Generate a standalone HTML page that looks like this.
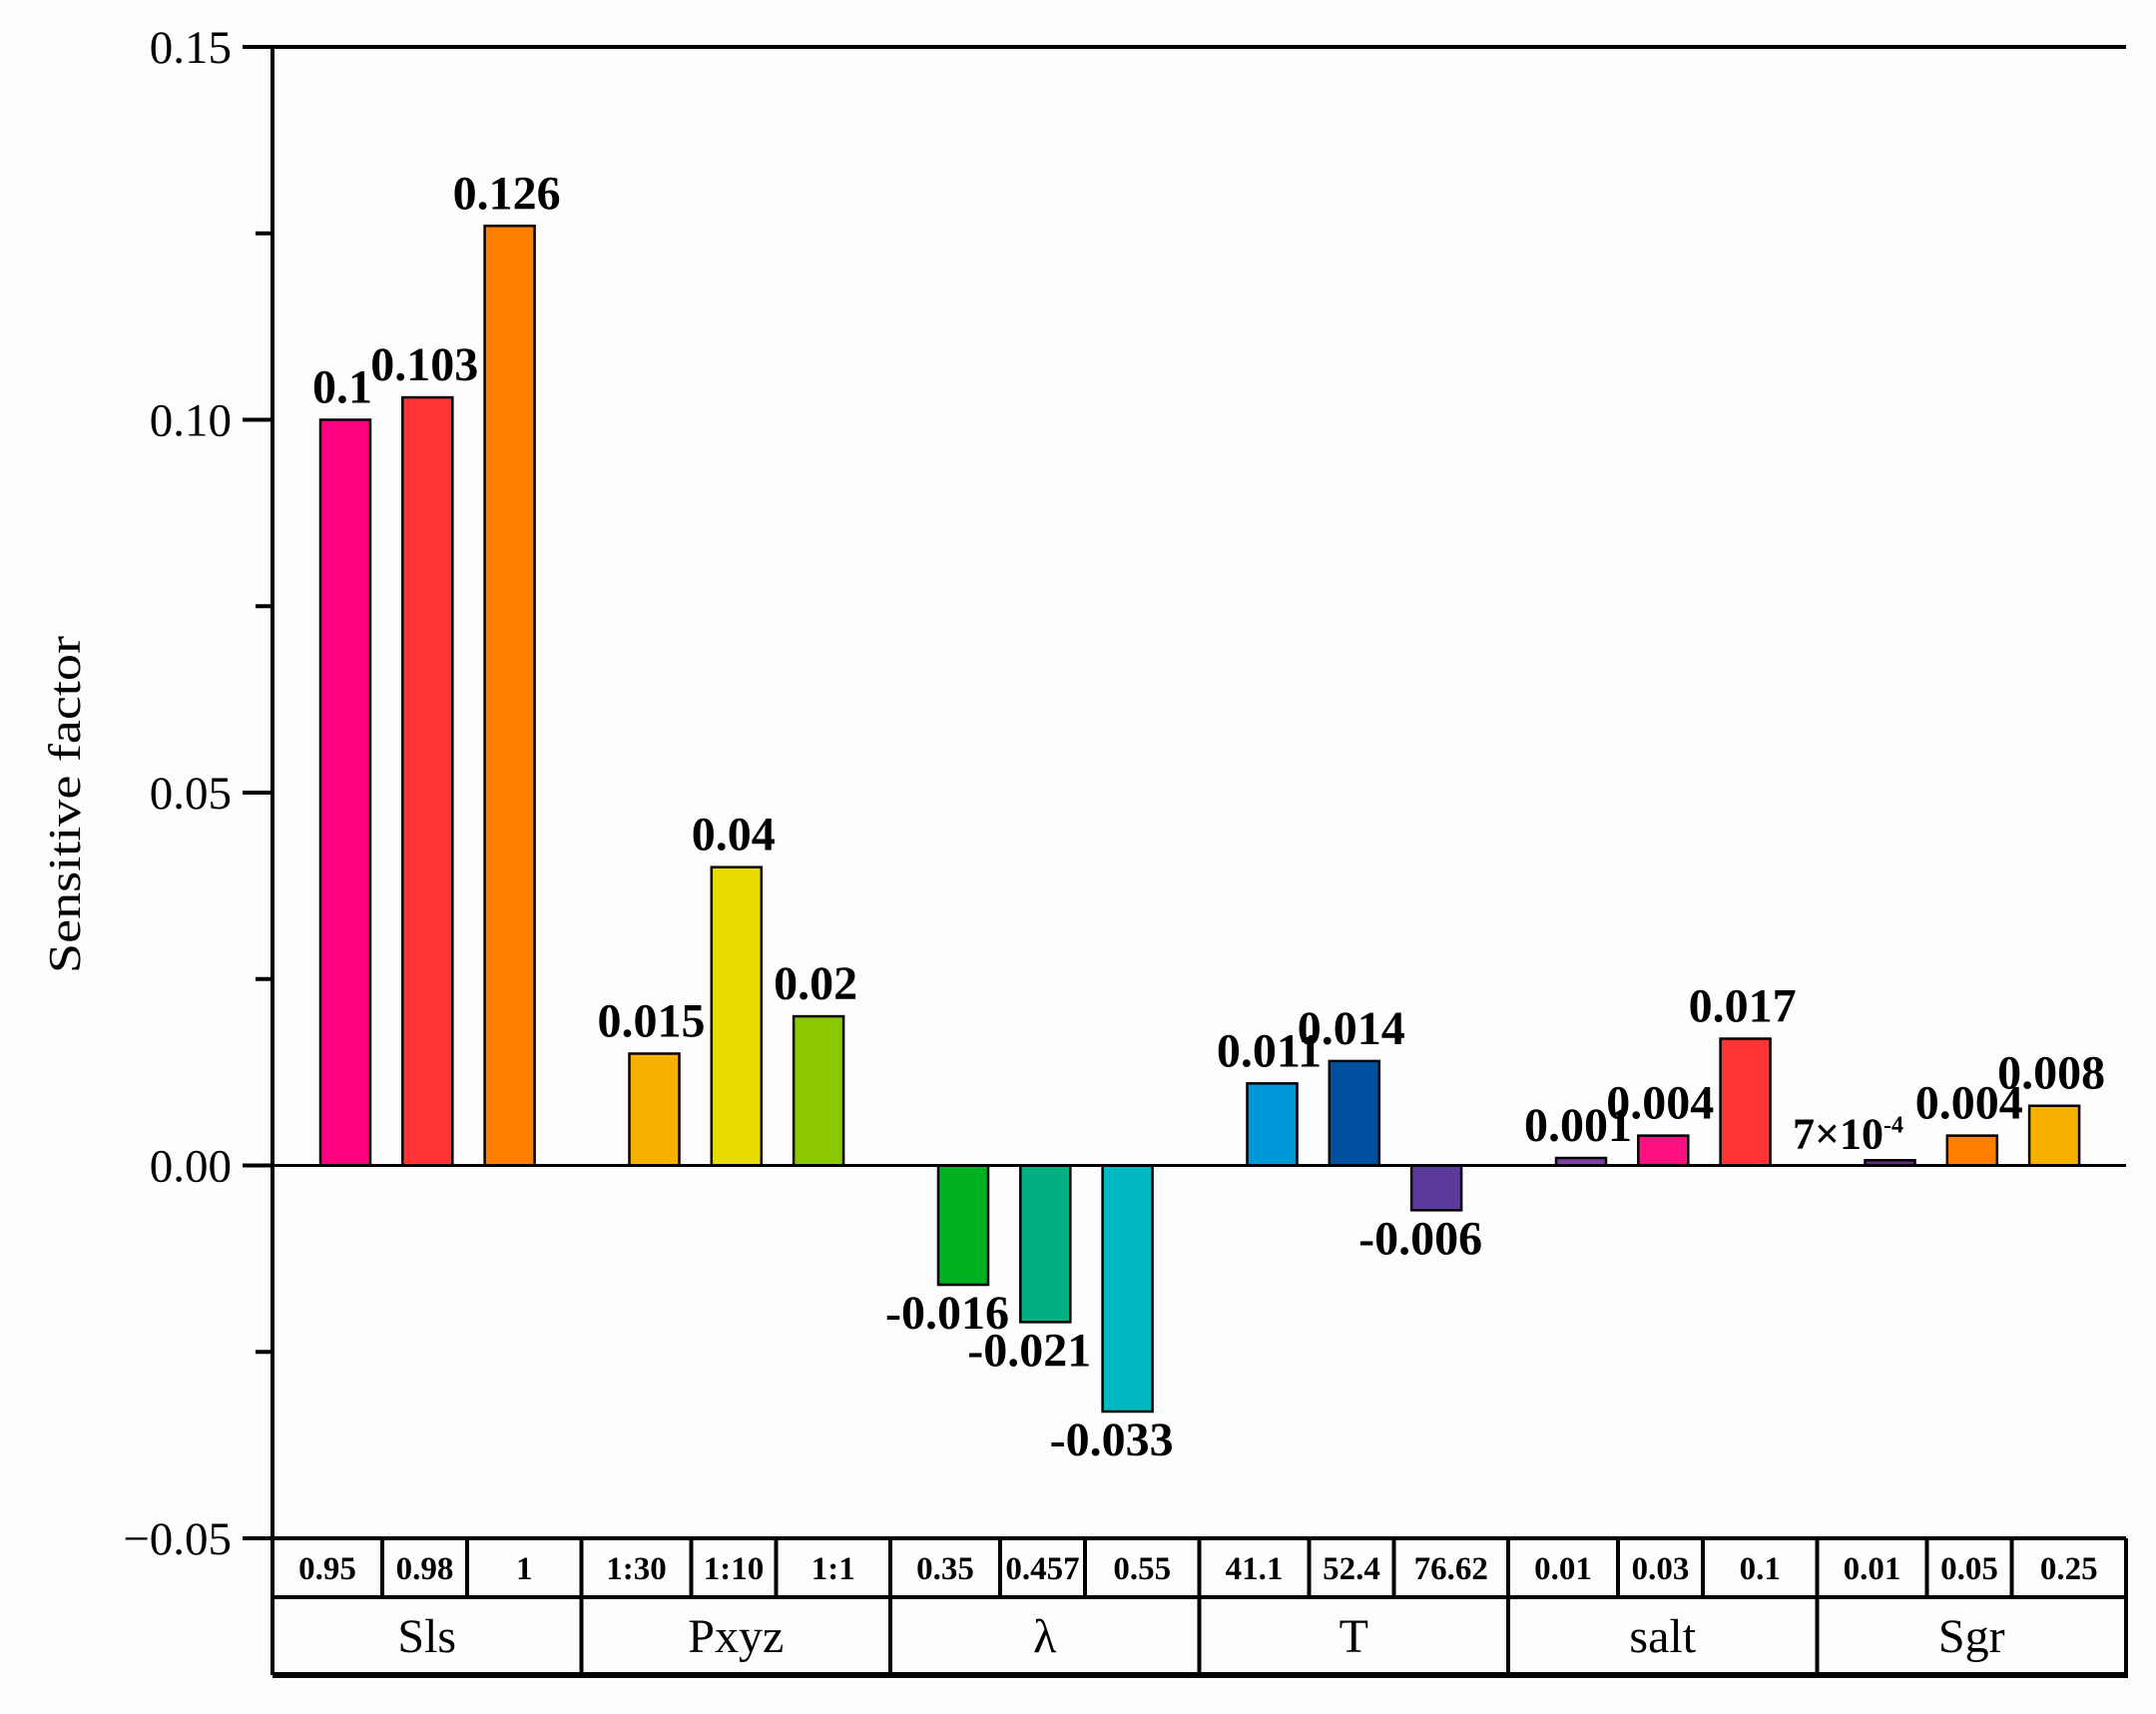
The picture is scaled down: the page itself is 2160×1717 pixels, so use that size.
<!DOCTYPE html>
<html><head><meta charset="utf-8"><style>
html,body{margin:0;padding:0;background:#fdfdfd;}
svg{display:block;font-family:"Liberation Serif",serif;}
</style></head><body>
<svg id="chart" width="2160" height="1717" viewBox="0 0 2160 1717">
<rect width="2160" height="1717" fill="#fdfdfd"/>
<g id="plot"></g>
</svg>
<script>
const groups = ["Sls","Pxyz","λ","T","salt","Sgr"];
const subLabels = ["0.95","0.98","1","1:30","1:10","1:1","0.35","0.457","0.55","41.1","52.4","76.62","0.01","0.03","0.1","0.01","0.05","0.25"];
const values = [0.1,0.103,0.126,0.015,0.04,0.02,-0.016,-0.021,-0.033,0.011,0.014,-0.006,0.001,0.004,0.017,0.0007,0.004,0.008];
const valueLabels = ["0.1","0.103","0.126","0.015","0.04","0.02","-0.016","-0.021","-0.033","0.011","0.014","-0.006","0.001","0.004","0.017","7×10","0.004","0.008"];
const colors = ["#ff0080","#ff3535","#ff8000","#f5b000","#e8dc00","#8cc800","#00b020","#00b080","#00b8c0","#0098d8","#0050a0","#5a3a9a","#8040a0","#ff1080","#ff3535","#6a2a80","#ff8000","#f5b000"];
const yTicks = [0.15,0.10,0.05,0.00,-0.05];
const yTickLabels = ["0.15","0.10","0.05","0.00","\u22120.05"];

const NS="http://www.w3.org/2000/svg";
const g=document.getElementById('plot');
const X0=273, X1=2130, Y_TOP=47, Y_BOT=1541;
const yMin=-0.05, yMax=0.15;
function y(v){return Y_BOT-(v-yMin)/(yMax-yMin)*(Y_BOT-Y_TOP);}
const gw=(X1-X0)/groups.length;
function groupX(i){return X0+i*gw;}
function barX(k){const gi=Math.floor(k/3), j=k%3; return groupX(gi)+73+82.3*j;}
const BW=50;
function el(tag,attrs,text){const e=document.createElementNS(NS,tag);for(const a in attrs)e.setAttribute(a,attrs[a]);if(text!==undefined)e.textContent=text;g.appendChild(e);return e;}

let e;
e=el('line',{x1:X0,y1:Y_TOP-2,x2:X0,y2:Y_BOT,stroke:'#000','stroke-width':4});


e=el('line',{x1:243,y1:Y_TOP,x2:X1,y2:Y_TOP,stroke:'#000','stroke-width':4});


yTicks.forEach((t,i)=>{
  const l=el('line',{x1:243,y1:y(t),x2:X0,y2:y(t),stroke:'#000','stroke-width':4});
  
  
  const tx=el('text',{x:232,y:y(t)+16,'text-anchor':'end','font-size':47},yTickLabels[i]);
  
  
  if(i<yTicks.length-1){
    const m=(t+yTicks[i+1])/2;
    const ml=el('line',{x1:256,y1:y(m),x2:X0,y2:y(m),stroke:'#000','stroke-width':4});
    
    
  }
});
const ty=y(0.05)+12;
e=el('text',{x:80,y:ty,'text-anchor':'middle','font-size':46,textLength:338,lengthAdjust:'spacingAndGlyphs',transform:`rotate(-90 80 ${ty})`},'Sensitive factor');



values.forEach((v,k)=>{
  const cx=barX(k);
  const top=Math.min(y(v),y(0)), h=Math.abs(y(v)-y(0));
  const r=el('rect',{x:cx-BW/2,y:top,width:BW,height:Math.max(h,1),fill:colors[k],stroke:'#000','stroke-width':2.5});
  
  
  let t;
  if(v>=0){
    t=el('text',{x:cx-3,y:y(v)-17,'text-anchor':'middle','font-size':48,'font-weight':'bold'},valueLabels[k]);
  } else {
    t=el('text',{x:cx-16,y:y(v)+44,'text-anchor':'middle','font-size':48,'font-weight':'bold'},valueLabels[k]);
  }
  if(valueLabels[k]==='7×10'){
    t.setAttribute('x',cx-42);
    t.setAttribute('y',y(v)-12);
    t.setAttribute('font-size',44);
    const s=document.createElementNS(NS,'tspan');
    s.setAttribute('dy',-16);s.setAttribute('font-size',24);
    s.textContent='-4';t.appendChild(s);
  }
  
  
});
e=el('line',{x1:X0,y1:y(0),x2:X1,y2:y(0),stroke:'#000','stroke-width':3});



const R1=Y_BOT, R2=1600, R3=1678;
e=el('line',{x1:X0,y1:R1,x2:X1,y2:R1,stroke:'#000','stroke-width':4});


e=el('line',{x1:X0,y1:R2,x2:X1,y2:R2,stroke:'#000','stroke-width':4});


e=el('line',{x1:X0,y1:R3,x2:X1+2,y2:R3,stroke:'#000','stroke-width':6});


const cellOff=[0,110,195,gw];
groups.forEach((name,gi)=>{
  const gx=groupX(gi);
  const v=el('line',{x1:gx,y1:R1,x2:gx,y2:R3,stroke:'#000','stroke-width':4});
  
  
  for(let j=1;j<3;j++){
    const c=el('line',{x1:gx+cellOff[j],y1:R1,x2:gx+cellOff[j],y2:R2,stroke:'#000','stroke-width':4});
    
    
  }
  for(let j=0;j<3;j++){
    const cx=gx+(cellOff[j]+cellOff[j+1])/2;
    const t=el('text',{x:cx,y:R1+41,'text-anchor':'middle','font-size':33,'font-weight':'bold'},subLabels[gi*3+j]);
    
    
  }
  const gt=el('text',{x:gx+gw/2,y:R2+55,'text-anchor':'middle','font-size':48},name);
  
  
});
const last=el('line',{x1:X1,y1:R1,x2:X1,y2:R3,stroke:'#000','stroke-width':4});


</script>
</body></html>
